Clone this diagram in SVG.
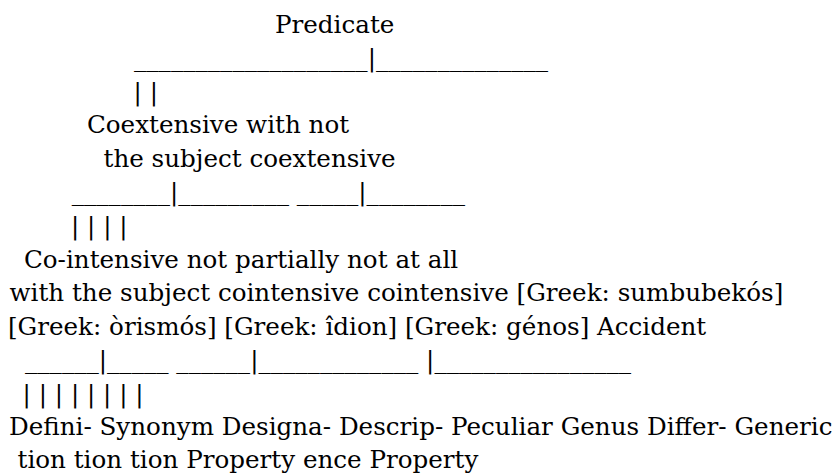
<svg xmlns="http://www.w3.org/2000/svg" width="835" height="476" viewBox="0 0 835 476">
<style>
text { font-family: "DejaVu Serif", "Liberation Serif", serif; font-size: 24.6px; fill: #000; white-space: pre; }
</style>
<rect width="835" height="476" fill="#fff"/>
<g id="predicate"><text x="275" y="33">Predicate</text></g>
<g id="coextensive"><text x="87" y="133.4">Coextensive with not</text><text x="103.5" y="166.8">the subject coextensive</text></g>
<g id="cointensive"><text x="24" y="267.6">Co-intensive not partially not at all</text><text x="9.5" y="301">with the subject cointensive cointensive [Greek: sumbubekós]</text></g>
<g id="greek-terms"><text x="8" y="334.5">[Greek: òrismós] [Greek: îdion] [Greek: génos] Accident</text></g>
<g id="species"><text x="9" y="435">Defini- Synonym Designa- Descrip- Peculiar Genus Differ- Generic</text><text x="17.5" y="468.4">tion tion tion Property ence Property</text></g>
<g id="connectors">
<text x="134" y="66.4">___________________|______________</text>
<text x="133.6" y="99.9">| |</text>
<text x="71.7" y="200.2">________|_________ _____|________</text>
<text x="71" y="234">| | | |</text>
<text x="25" y="368">______|_____ ______|_____________ |________________</text>
<text x="22.6" y="401.5">| | | | | | | |</text>
</g>
</svg>
